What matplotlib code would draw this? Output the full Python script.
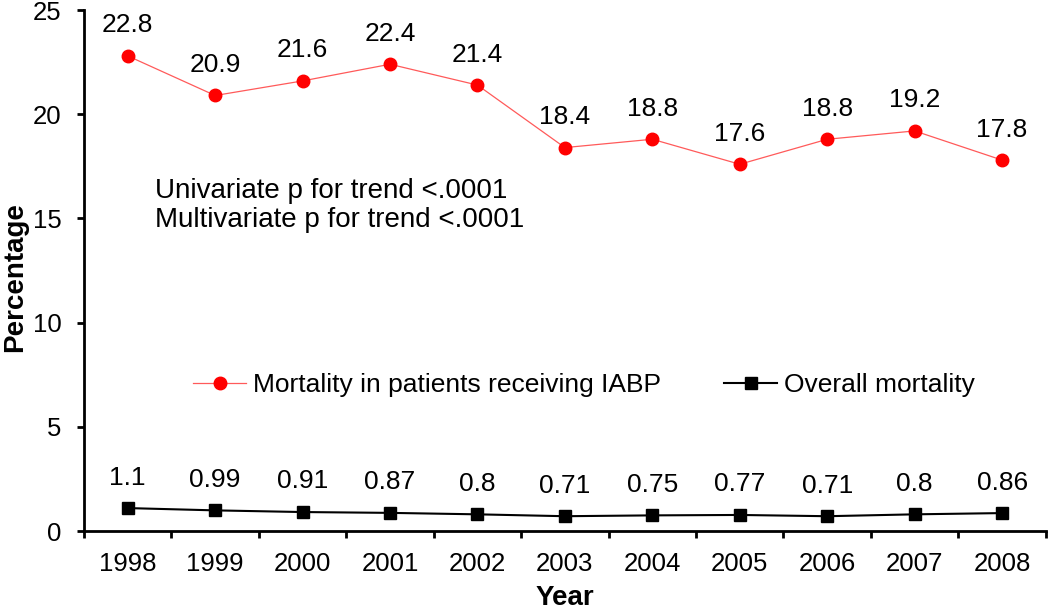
import matplotlib
matplotlib.use("Agg")
import matplotlib.pyplot as plt

plt.rcParams['font.family'] = ['Liberation Sans', 'DejaVu Sans']

years = ['1998', '1999', '2000', '2001', '2002', '2003', '2004', '2005', '2006', '2007', '2008']
iabp = [22.8, 20.9, 21.6, 22.4, 21.4, 18.4, 18.8, 17.6, 18.8, 19.2, 17.8]
overall = [1.1, 0.99, 0.91, 0.87, 0.8, 0.71, 0.75, 0.77, 0.71, 0.8, 0.86]
iabp_labels = ['22.8', '20.9', '21.6', '22.4', '21.4', '18.4', '18.8', '17.6', '18.8', '19.2', '17.8']
overall_labels = ['1.1', '0.99', '0.91', '0.87', '0.8', '0.71', '0.75', '0.77', '0.71', '0.8', '0.86']
yticks = [0, 5, 10, 15, 20, 25]
note_lines = ['Univariate p for trend <.0001', 'Multivariate p for trend <.0001']

fig = plt.figure(figsize=(10.5, 6.1), dpi=100)
ax = fig.add_axes([0.080, 0.1295, 0.916, 0.854])

x = list(range(len(years)))
l1, = ax.plot(x, iabp, color='#FF5A5A', lw=0.9, marker='o', ms=9,
              markerfacecolor='red', markeredgecolor='red',
              label='Mortality in patients receiving IABP')
l2, = ax.plot(x, overall, color='black', lw=1.5, marker='s', ms=9,
              markerfacecolor='black', markeredgecolor='black',
              label='Overall mortality')

for xi, v, t in zip(x, iabp, iabp_labels):
    ax.annotate(t, (xi, v), xytext=(0, 22), textcoords='offset points',
                ha='center', va='center', fontsize=19)
for xi, v, t in zip(x, overall, overall_labels):
    ax.annotate(t, (xi, v), xytext=(0, 22), textcoords='offset points',
                ha='center', va='center', fontsize=19)

ax.set_xlim(-0.5, len(years) - 0.5)
ax.set_ylim(0, 25)
ax.set_yticks(yticks)
ax.set_xticks([i + 0.5 for i in range(-1, len(years))])
ax.set_xticklabels([])
ax.set_xticks(x, minor=True)
ax.set_xticklabels(years, minor=True)
ax.tick_params(axis='x', which='minor', length=0, labelsize=18.5, pad=15)
ax.tick_params(axis='x', which='major', length=5, width=2, direction='out')
ax.tick_params(axis='y', length=5, width=2, direction='out', labelsize=18.5, pad=11)

for s in ['top', 'right']:
    ax.spines[s].set_visible(False)
for s in ['left', 'bottom']:
    ax.spines[s].set_linewidth(2)

ax.set_ylabel('Percentage', fontsize=20, fontweight='bold')
ax.yaxis.set_label_coords(-0.058, 0.4875)
ax.set_xlabel('Year', fontsize=20, fontweight='bold')
ax.xaxis.set_label_coords(0.5, -0.104)

ax.text(0.0738, 0.6526, note_lines[0], transform=ax.transAxes, fontsize=20,
        va='center', ha='left')
ax.text(0.0738, 0.597, note_lines[1], transform=ax.transAxes, fontsize=20,
        va='center', ha='left')

ax.legend(handles=[l1, l2], loc='center', bbox_to_anchor=(0.52, 0.28), ncol=2,
          frameon=False, fontsize=19, columnspacing=2.4, handlelength=2.0,
          handletextpad=0.27)

fig.savefig('out.png', dpi=100)
